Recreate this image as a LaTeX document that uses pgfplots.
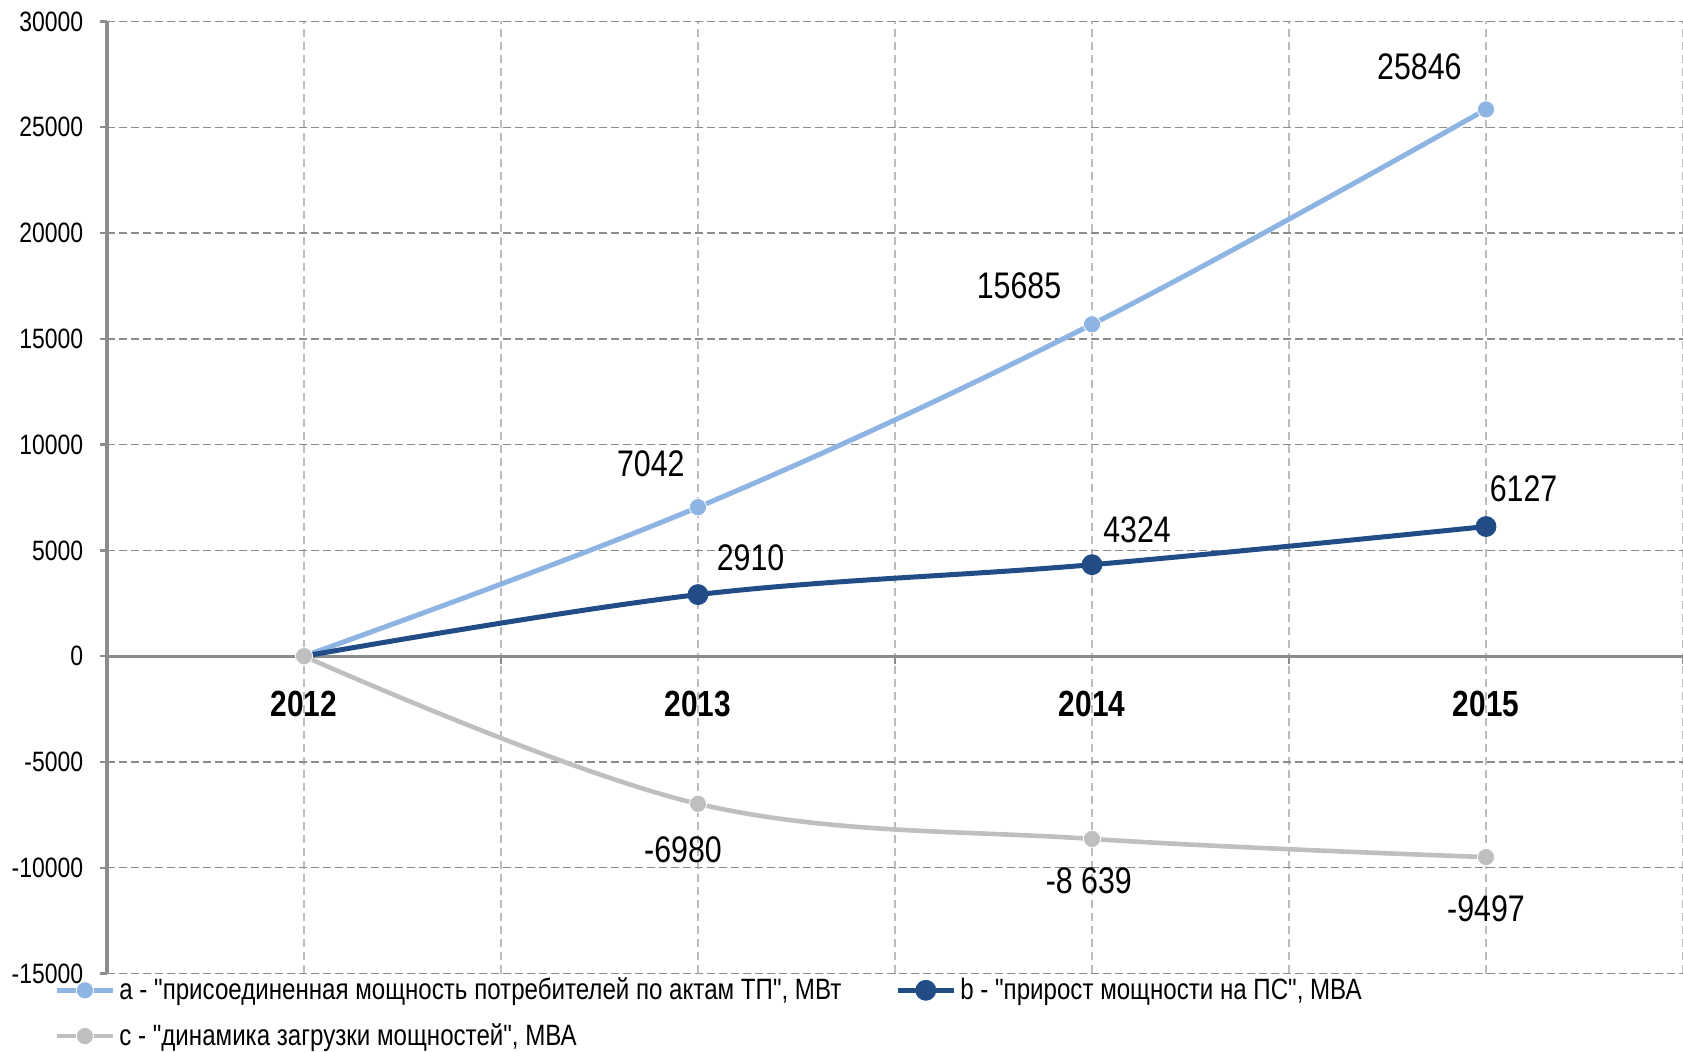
\documentclass[border=0pt]{standalone}
\usepackage{fontspec}
\setmainfont{Liberation Sans}[FakeStretch=0.82, Ligatures=TeXOff]
\usepackage{pgfplots}
\pgfplotsset{compat=1.18}
\usepackage{pgfplotstable}

\definecolor{cA}{HTML}{8DB4E2}
\definecolor{cB}{HTML}{214C86}
\definecolor{cC}{HTML}{BFBFBF}
\definecolor{axg}{HTML}{8C8C8C}
\definecolor{vg}{HTML}{BDBDBD}

\pgfplotstableread[col sep=comma]{
x,y
0,0
1,7042
2,15685
3,25846
}\serA
\pgfplotstableread[col sep=comma]{
x,y
0,0
1,2910
2,4324
3,6127
}\serB
\pgfplotstableread[col sep=comma]{
x,y
0,0
1,-6980
2,-8639
3,-9497
}\serC
\pgfplotstableread[col sep=comma]{
x,y,lab,dx,dy
1,7042,7042,-23.6,21.5
2,15685,15685,-36.5,19.3
3,25846,25846,-33.3,21.5
}\labA
\pgfplotstableread[col sep=comma]{
x,y,lab,dx,dy
1,2910,2910,26.3,18.3
2,4324,4324,22.5,17.7
3,6127,6127,18.8,18.8
}\labB
\pgfplotstableread[col sep=comma]{
x,y,lab,dx,dy
1,-6980,-6980,-7.5,-23.1
2,-8639,-8 639,-1.6,-20.9
3,-9497,-9497,0,-25.8
}\labC

\pgfplotsset{
  lab/.style={draw=none, mark=none, forget plot,
    nodes near coords, point meta=explicit symbolic,
    visualization depends on={\thisrow{dx}\as\lx},
    visualization depends on={\thisrow{dy}\as\ly},
    every node near coord/.append style={anchor=center, xshift=\lx pt, yshift=\ly pt,
      font=\fontsize{18.5}{20}\selectfont, text=black, inner sep=0pt}},
}

\begin{document}
\begin{tikzpicture}
\begin{axis}[
  scale only axis, width=788pt, height=476pt,
  xmin=-0.5, xmax=3.5, ymin=-15000, ymax=30000,
  axis x line*=middle, axis y line*=left,
  hide obscured x ticks=false, hide obscured y ticks=false,
  axis line style={draw=axg, line width=1.6pt},
  xtick={0,1,2,3}, xticklabels={2012,2013,2014,2015},
  minor xtick={0.5,1.5,2.5,3.5},
  ytick={-15000,-10000,-5000,0,5000,10000,15000,20000,25000,30000},
  yticklabels={-15000,-10000,-5000,0,5000,10000,15000,20000,25000,30000},
  tick align=outside,
  major tick length=3.5pt, minor tick length=4pt,
  every major x tick/.style={draw=none},
  every minor x tick/.style={draw=axg, line width=1.2pt},
  every major y tick/.style={draw=axg, line width=1.2pt},
  xmajorgrids, xminorgrids, ymajorgrids,
  every axis x grid/.style={draw=vg, line width=0.7pt, dash pattern=on 4pt off 2.5pt},
  every axis y grid/.style={draw=axg, line width=0.7pt, dash pattern=on 4pt off 2pt},
  xticklabel style={font=\fontsize{18.2}{20}\selectfont\bfseries, yshift=-10.3pt},
  yticklabel style={font=\fontsize{14}{16}\selectfont, inner sep=1pt, xshift=-7.2pt},
  legend columns=2,
  legend cell align=left,
  legend style={draw=none, fill=none, at={(0,0)}, anchor=north west,
    xshift=-29.5pt, yshift=2pt, font=\fontsize{14.7}{16}\selectfont,
    row sep=6.5pt, /tikz/every even column/.append style={column sep=25pt}},
  legend image code/.code={\draw[mark indices={2}] plot coordinates {(0pt,0pt) (14pt,0pt) (28pt,0pt)};},
  clip=false,
]
\addplot[cA, line width=2.5pt, smooth, tension=0.6, mark=*, mark size=4.3pt, mark indices={2,3,4},
  mark options={draw=white, line width=0.4pt, fill=cA}] table[x=x,y=y]{\serA};
\addlegendentry{a - "присоединенная мощность потребителей по актам ТП", МВт}
\addplot[cB, line width=2.5pt, smooth, tension=0.6, mark=*, mark size=5pt, mark indices={2,3,4},
  mark options={draw=cB, line width=0.4pt, fill=cB}] table[x=x,y=y]{\serB};
\addlegendentry{b - "прирост мощности на ПС", МВА}
\addplot[cC, line width=2.3pt, smooth, tension=0.6, mark=*, mark size=4.3pt,
  mark options={draw=white, line width=0.4pt, fill=cC}] table[x=x,y=y]{\serC};
\addlegendentry{c - "динамика загрузки мощностей", МВА}
\addplot[lab] table[x=x,y=y,meta=lab]{\labA};
\addplot[lab] table[x=x,y=y,meta=lab]{\labB};
\addplot[lab] table[x=x,y=y,meta=lab]{\labC};
\coordinate (bl) at (rel axis cs:0,0);
\coordinate (tr) at (rel axis cs:1,1);
\end{axis}
\pgfresetboundingbox
\path[use as bounding box] ([shift={(-53.5pt,-39.25pt)}]bl) rectangle ([shift={(0pt,10.75pt)}]tr);
\end{tikzpicture}
\end{document}
